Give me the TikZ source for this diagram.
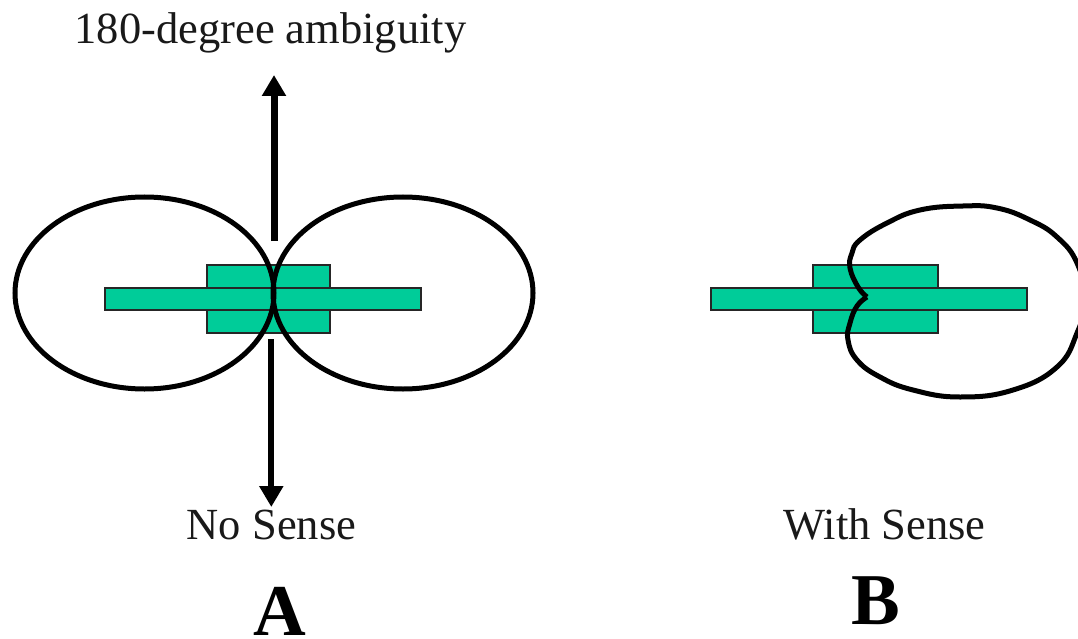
\documentclass[tikz,border=0pt]{standalone}
\usepackage{fontspec}
\setmainfont{Liberation Serif}
\usetikzlibrary{arrows.meta}
\definecolor{dipole}{RGB}{0,204,153}
\tikzset{
  x=1pt,y=-1pt,
  bar/.style={draw=black!85,line width=1.5pt,fill=dipole},
  lobe/.style={draw=black,line width=5pt},
  pointer/.style={draw=black,-{Triangle[length=21pt,width=23pt]}},
  caption/.style={font=\fontsize{44.5}{47}\selectfont,text=black!90,inner sep=0pt,anchor=base},
  letter/.style={font=\fontsize{73}{75}\selectfont\bfseries,inner sep=0pt,anchor=base}
}
\begin{document}
\begin{tikzpicture}
\clip (0,0) rectangle (1078,639);
\useasboundingbox (0,0) rectangle (1078,639);
% left antenna
\draw[bar] (207,265) rectangle (330,333);
\draw[bar] (105,288) rectangle (421,310);
\draw[lobe] (144.5,293) ellipse [x radius=129.5,y radius=96];
\draw[lobe] (403,293) ellipse [x radius=130,y radius=96];
% right antenna
\draw[bar] (813,265) rectangle (938,333);
\draw[bar] (711,288) rectangle (1027,310);
\draw[lobe,line join=round] plot[smooth,tension=0.75] coordinates {
 (867,297) (858,287) (850,268) (852,253) (860,240) (887,223) (920,210) (963,206) (997,208)
 (1030,220) (1057,237) (1077,263) (1085,300) (1077,333) (1057,367) (1013,390) (960,397)
 (913,390) (880,377) (857,360) (848,340) (850,323) (857,306) (867,297)};
% pointers
\coordinate (upA) at (274,241);
\coordinate (upB) at (274,75);
\coordinate (dnA) at (271.3,339);
\coordinate (dnB) at (271.3,507);
\draw[pointer,line width=7pt] (upA) -- (upB);
\draw[pointer,line width=6pt] (dnA) -- (dnB);
% labels
\node[caption] (amb) at (270.5,44) {180-degree ambiguity};
\node[caption] (ns) at (271.5,539.5) {No Sense};
\node[caption] (ws) at (884.5,539) {With Sense};
\node[letter] (la) at (280,635.5) {A};
\node[letter] (lb) at (875.5,624) {B};
\end{tikzpicture}
\end{document}
